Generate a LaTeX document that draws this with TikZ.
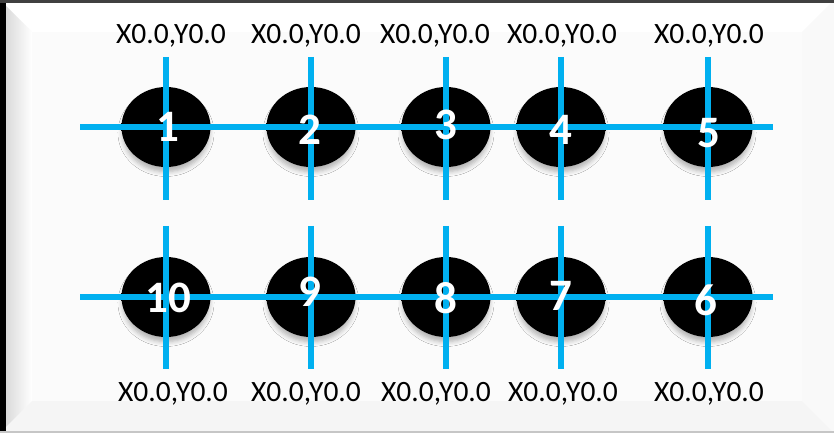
\documentclass[tikz,border=0pt]{standalone}
\usepackage{fontspec}
\setmainfont{Carlito}
\usetikzlibrary{positioning,calc,shapes.geometric,shadows.blur}
\definecolor{crossblue}{HTML}{00B0F0}
\pgfdeclareradialshading{ballrim}{\pgfpoint{0bp}{0bp}}{color(0bp)=(black); color(34bp)=(black); color(44bp)=(black!85); color(50bp)=(gray!75); color(100bp)=(gray!75)}

\begin{document}
\begin{tikzpicture}[
  ball/.style={ellipse, minimum width=0.89cm, minimum height=0.80cm, inner sep=0pt,
    shading=ballrim, blur shadow={shadow xshift=0pt, shadow yshift=-0.06cm, shadow blur radius=0.05cm,
    shadow blur steps=5, shadow opacity=30, shadow scale=0.97}},
  num/.style={text=white, font=\bfseries\fontsize{12.8}{13}\selectfont, inner sep=0pt},
  coordtext/.style={font=\fontsize{8.4}{9}\selectfont, inner sep=0pt},
  cross/.style={draw=crossblue, line width=1.45pt}
]
\useasboundingbox (0,0) rectangle (8.34,4.33);

% bevelled panel
\fill[gray!3] (0,0) rectangle (8.34,4.33);
\fill[white] (0,4.33) -- (8.34,4.33) -- (8.02,4.01) -- (0.32,4.01) -- cycle;
\fill[gray!8] (0,0) -- (8.34,0) -- (8.02,0.32) -- (0.32,0.32) -- cycle;
\fill[gray!5] (8.34,0) -- (8.34,4.33) -- (8.02,4.01) -- (8.02,0.32) -- cycle;
\shade[left color=gray!35, right color=white] (0,0) -- (0.32,0.32) -- (0.32,4.01) -- (0,4.33) -- cycle;
\fill[gray!3] (0.32,0.32) rectangle (8.02,4.01);
\draw[black, line width=0.12cm] (0,0) -- (0,4.33);
\draw[black!75, line width=0.06cm] (0,4.33) -- (8.34,4.33);
\draw[gray!45, line width=0.04cm] (0,0) -- (8.34,0);

% top row
\node[ball] (b1) at (1.66,3.06) {};
\node[ball] (b2) at (3.11,3.06) {};
\node[ball] (b3) at (4.46,3.06) {};
\node[ball] (b4) at (5.61,3.06) {};
\node[ball] (b5) at (7.08,3.06) {};
% bottom row
\node[ball] (b10) at (1.66,1.36) {};
\node[ball] (b9) at (3.11,1.36) {};
\node[ball] (b8) at (4.46,1.36) {};
\node[ball] (b7) at (5.61,1.36) {};
\node[ball] (b6) at (7.08,1.36) {};

% cross lines
\draw[cross] ([xshift=-0.86cm]b1.center) -- ([xshift=0.65cm]b5.center);
\draw[cross] ([xshift=-0.86cm]b10.center) -- ([xshift=0.65cm]b6.center);
\draw[cross] ([yshift=0.70cm]b1.center) -- ([yshift=-0.73cm]b1.center);
\draw[cross] ([yshift=0.70cm]b2.center) -- ([yshift=-0.73cm]b2.center);
\draw[cross] ([yshift=0.70cm]b3.center) -- ([yshift=-0.73cm]b3.center);
\draw[cross] ([yshift=0.70cm]b4.center) -- ([yshift=-0.73cm]b4.center);
\draw[cross] ([yshift=0.70cm]b5.center) -- ([yshift=-0.73cm]b5.center);
\draw[cross] ([yshift=0.71cm]b10.center) -- ([yshift=-0.72cm]b10.center);
\draw[cross] ([yshift=0.71cm]b9.center) -- ([yshift=-0.72cm]b9.center);
\draw[cross] ([yshift=0.71cm]b8.center) -- ([yshift=-0.72cm]b8.center);
\draw[cross] ([yshift=0.71cm]b7.center) -- ([yshift=-0.72cm]b7.center);
\draw[cross] ([yshift=0.71cm]b6.center) -- ([yshift=-0.72cm]b6.center);

% numbers
\node[num] (n1) at (1.68,3.06) {1};
\node[num] (n2) at (3.10,3.03) {2};
\node[num] (n3) at (4.46,3.08) {3};
\node[num] (n4) at (5.61,3.03) {4};
\node[num] (n5) at (7.09,3.00) {5};
\node[num] (n10) at (1.68,1.35) {10};
\node[num] (n9) at (3.10,1.41) {9};
\node[num] (n8) at (4.46,1.35) {8};
\node[num] (n7) at (5.61,1.37) {7};
\node[num] (n6) at (7.06,1.33) {6};

% coordinate labels
\node[coordtext] (l1) at (1.71,3.97) {X0.0,Y0.0};
\node[coordtext] (l2) at (3.06,3.97) {X0.0,Y0.0};
\node[coordtext] (l3) at (4.35,3.97) {X0.0,Y0.0};
\node[coordtext] (l4) at (5.62,3.97) {X0.0,Y0.0};
\node[coordtext] (l5) at (7.09,3.97) {X0.0,Y0.0};
\node[coordtext] (l10) at (1.73,0.39) {X0.0,Y0.0};
\node[coordtext] (l9) at (3.06,0.39) {X0.0,Y0.0};
\node[coordtext] (l8) at (4.36,0.39) {X0.0,Y0.0};
\node[coordtext] (l7) at (5.63,0.39) {X0.0,Y0.0};
\node[coordtext] (l6) at (7.09,0.39) {X0.0,Y0.0};
\end{tikzpicture}
\end{document}
